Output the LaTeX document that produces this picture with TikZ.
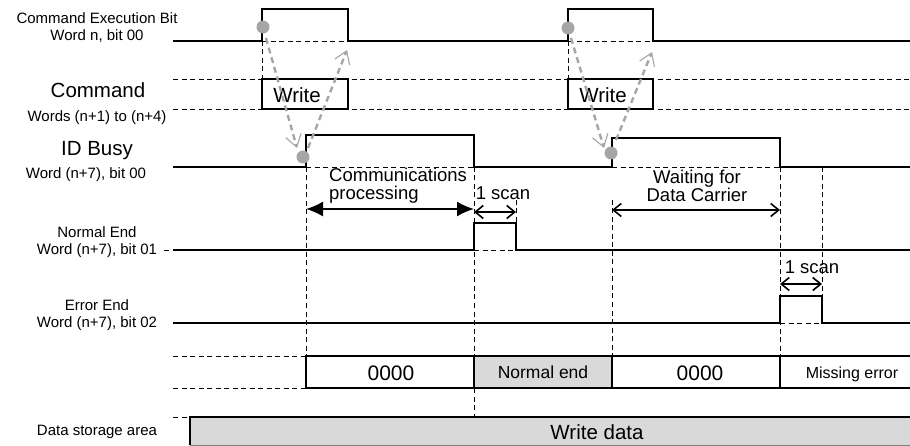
\documentclass[tikz,border=0pt]{standalone}
\usepackage{fontspec}
\setmainfont{Liberation Sans}
\usetikzlibrary{arrows.meta}

\tikzset{
  wave/.style={line width=2pt},
  guide/.style={line width=0.8pt, dash pattern=on 5pt off 3.5pt},
  trigger/.style={draw=gray!70, line width=2.4pt, dash pattern=on 6pt off 4pt,
    -{Straight Barb[length=12pt,width=16pt,line width=1.1pt]}},
  tick/.style={fill=gray!70, draw=none},
  span/.style={line width=1.6pt, {Latex[length=17pt,width=15pt]}-{Latex[length=17pt,width=15pt]}},
  scanspan/.style={line width=1.6pt, {Straight Barb[length=8pt,width=13pt]}-{Straight Barb[length=8pt,width=13pt]}},
  lbl/.style={font=\fontsize{15}{17}\selectfont, align=center, inner sep=0pt},
  biglbl/.style={font=\fontsize{20.5}{24}\selectfont, inner sep=0pt},
  note/.style={font=\fontsize{18.5}{18}\selectfont, inner sep=0pt},
}

\begin{document}
\begin{tikzpicture}[x=1pt, y=-1pt]
  \useasboundingbox (0,0) rectangle (910,446);

  % Command Execution Bit
  \node[lbl] (lblexec) at (97,28) {Command Execution Bit\\Word n, bit 00};
  \draw[guide] (262,41) -- (348,41) (568,41) -- (653,41);
  \draw[guide] (262,41) -- (262,79) (568,41) -- (568,79);
  \draw[wave] (173,41) -- (262,41) -- (262,9) -- (348,9) -- (348,41)
    -- (568,41) -- (568,9) -- (653,9) -- (653,41) -- (910,41);

  % Command
  \node[biglbl] (lblcmd) at (98,90) {Command};
  \node[lbl] (lblcmdw) at (97,118) {Words (n+1) to (n+4)};
  \draw[guide] (173,79) -- (910,79) (173,109) -- (910,109);
  \draw[wave, fill=white] (262,79) rectangle (348,109);
  \draw[wave, fill=white] (568,79) rectangle (653,109);
  \node[biglbl] (write1) at (297,95) {Write};
  \node[biglbl] (write2) at (603,95) {Write};

  % ID Busy
  \node[biglbl] (lblbusy) at (97,151) {ID Busy};
  \node[lbl] (lblbusyw) at (86,175) {Word (n+7), bit 00};
  \draw[guide] (306,167) -- (474,167) (612,167) -- (780,167);
  \draw[wave] (173,167) -- (306,167) -- (306,135) -- (474,135) -- (474,167)
    -- (612,167) -- (612,138) -- (780,138) -- (780,167) -- (910,167);

  % handshake arrows
  \draw[trigger] (266,38) -- (297,148);
  \draw[trigger] (308,148) -- (347,50);
  \draw[trigger] (571,38) -- (604,148);
  \draw[trigger] (616,140) -- (652,52);
  \fill[tick] (263,27) circle (6.5) (568,28) circle (6.5);
  \fill[tick] (303,157) circle (6.5) (611,153) circle (6.5);

  % time guides
  \draw[guide] (306,167) -- (306,356);
  \draw[guide] (474,167) -- (474,417);
  \draw[guide] (516,200) -- (516,223);
  \draw[guide] (612,200) -- (612,356);
  \draw[guide] (780,167) -- (780,356);
  \draw[guide] (822,167) -- (822,296);

  % spans
  \node[note, anchor=west, align=left] (commproc) at (329,186) {Communications\\processing};
  \draw[span] (306,209) -- (474,209);
  \node[note] (scan1) at (503,193) {1 scan};
  \draw[scanspan] (474,212) -- (516,212);
  \node[note, align=center] (waiting) at (697,186) {Waiting for\\Data Carrier};
  \draw[scanspan] (612,210) -- (780,210);
  \node[note] (scan2) at (812,267) {1 scan};
  \draw[scanspan] (780,284) -- (822,284);

  % Normal End
  \node[lbl] (lblnorm) at (97,242) {Normal End\\Word (n+7), bit 01};
  \draw[guide] (164,250) -- (173,250) (474,250) -- (516,250);
  \draw[wave] (173,250) -- (474,250) -- (474,223) -- (516,223) -- (516,250) -- (910,250);

  % Error End
  \node[lbl] (lblerr) at (97,315) {Error End\\Word (n+7), bit 02};
  \draw[guide] (780,323) -- (822,323);
  \draw[wave] (173,323) -- (780,323) -- (780,296) -- (822,296) -- (822,323) -- (910,323);

  % response code
  \draw[guide] (173,356) -- (306,356) (173,388) -- (306,388);
  \fill[gray!30] (474,356) rectangle (612,388);
  \draw[wave] (910,356) -- (306,356) -- (306,388) -- (910,388);
  \draw[wave] (474,356) -- (474,388) (612,356) -- (612,388) (780,356) -- (780,388);
  \node[font=\fontsize{21}{24}\selectfont] (code1) at (391,373) {0000};
  \node[font=\fontsize{17.5}{20}\selectfont] (code2) at (543,372) {Normal end};
  \node[font=\fontsize{21}{24}\selectfont] (code3) at (700,373) {0000};
  \node[font=\fontsize{16}{20}\selectfont] (code4) at (852,374) {Missing error};

  % Data storage area
  \node[lbl] (lbldata) at (97,432) {Data storage area};
  \draw[guide] (173,417) -- (190,417);
  \fill[gray!30] (190,417) rectangle (910,445);
  \draw[wave] (910,417) -- (190,417) -- (190,445);
  \draw[line width=0.8pt, gray] (190,445) -- (910,445);
  \node[biglbl] (wdata) at (597,432) {Write data};
\end{tikzpicture}
\end{document}
